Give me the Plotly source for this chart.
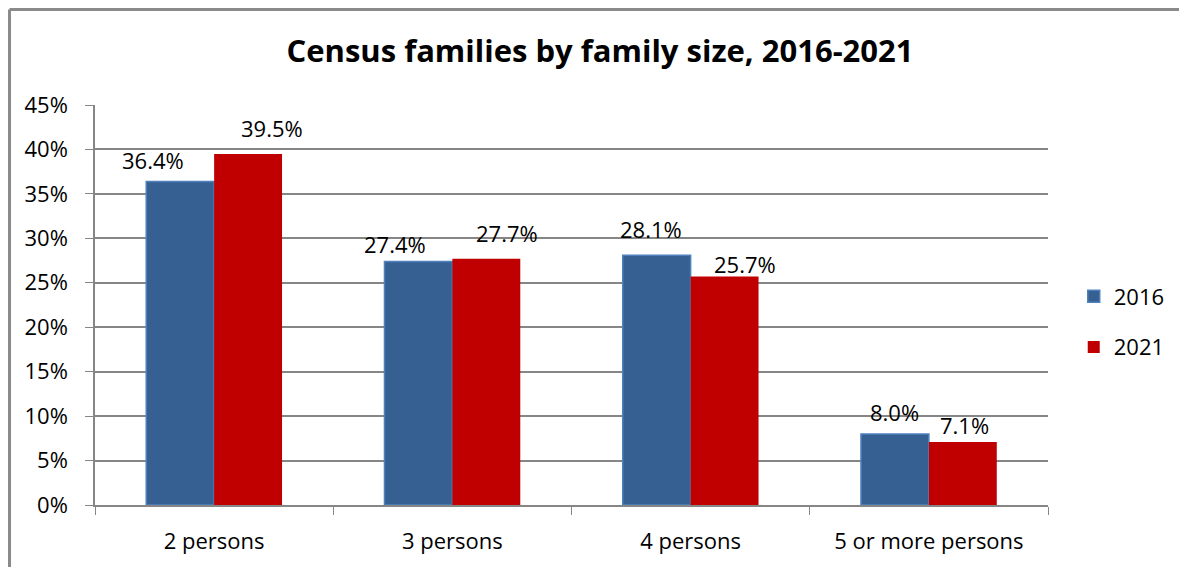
import plotly.graph_objects as go

categories = ["2 persons", "3 persons", "4 persons", "5 or more persons"]
series_names = ["2016", "2021"]
values_2016 = [36.4, 27.4, 28.1, 8.0]
values_2021 = [39.5, 27.7, 25.7, 7.1]
y_ticks = [0, 5, 10, 15, 20, 25, 30, 35, 40, 45]
y_tick_labels = [f"{t}%" for t in y_ticks]

# label style offsets (pixels), mimicking the original label placement
label_dx_2016 = [-27, -23, -6, 0]
label_dx_2021 = [24, 21, 20, 2]
label_dy_2016 = [21, 17, 26, 22]
label_dy_2021 = [26, 26, 13, 17]

FONT = "Open Sans"
FS = 22
fig = go.Figure()
fig.add_trace(go.Bar(
    x=categories, y=values_2016, name=series_names[0],
    marker=dict(color="#376092", line=dict(color="#4F81BD", width=1.5)),
    legendgroup="a",
))
fig.add_trace(go.Bar(
    x=categories, y=values_2021, name=series_names[1],
    marker=dict(color="#C00000", line=dict(color="#C00000", width=0)),
    legendgroup="b",
))

for vals, dxs, dys, off in [(values_2016, label_dx_2016, label_dy_2016, -34),
                            (values_2021, label_dx_2021, label_dy_2021, 34)]:
    for c, v, dx, dy in zip(categories, vals, dxs, dys):
        fig.add_annotation(
            x=c, y=v, xref="x", yref="y", text=f"{v:.1f}%", showarrow=False,
            xshift=off + dx, yshift=dy, yanchor="middle", xanchor="center",
            font=dict(family=FONT, size=FS, color="#000000"),
        )

# outer chart border (top and left edges visible)
border = dict(color="#8A8A8A", width=3)
fig.add_shape(type="line", xref="paper", yref="paper",
              x0=-0.0897, x1=-0.0897, y0=-0.6, y1=1.2388, line=border, layer="below")
fig.add_shape(type="line", xref="paper", yref="paper",
              x0=-0.0897, x1=1.15, y0=1.2388, y1=1.2388, line=border, layer="below")

fig.update_layout(
    width=1179, height=559,
    margin=dict(l=87, r=139, t=97, b=62),
    paper_bgcolor="white", plot_bgcolor="white",
    barmode="group", bargap=0.43, bargroupgap=0,
    title=dict(text="<b>Census families by family size, 2016-2021</b>",
               x=(600 - 8) / 1179, xref="container", xanchor="center", y=1 - 43/559, yanchor="middle",
               font=dict(family=FONT, size=31, color="#000000")),
    font=dict(family=FONT, size=FS, color="#000000"),
    legend=dict(x=1.027, y=0.4575, xanchor="left", yanchor="middle",
                font=dict(family=FONT, size=FS), tracegroupgap=19,
                itemwidth=30, bgcolor="rgba(0,0,0,0)"),
    showlegend=True,
)
fig.update_xaxes(
    showline=True, linecolor="#868686", linewidth=1.5,
    ticks="outside", tickson="boundaries", ticklen=8, tickcolor="#868686",
    tickfont=dict(family=FONT, size=FS), showgrid=False, ticklabelstandoff=16,
)
fig.update_yaxes(
    range=[0, 45], tickvals=y_ticks, ticktext=y_tick_labels,
    showline=True, linecolor="#868686", linewidth=1.5,
    ticks="outside", ticklen=8, tickcolor="#868686",
    showgrid=True, gridcolor="#868686", gridwidth=1.5,
    tickfont=dict(family=FONT, size=FS), zeroline=False, ticklabelstandoff=13,
)

fig.write_html("out.html", config={"displayModeBar": False})
